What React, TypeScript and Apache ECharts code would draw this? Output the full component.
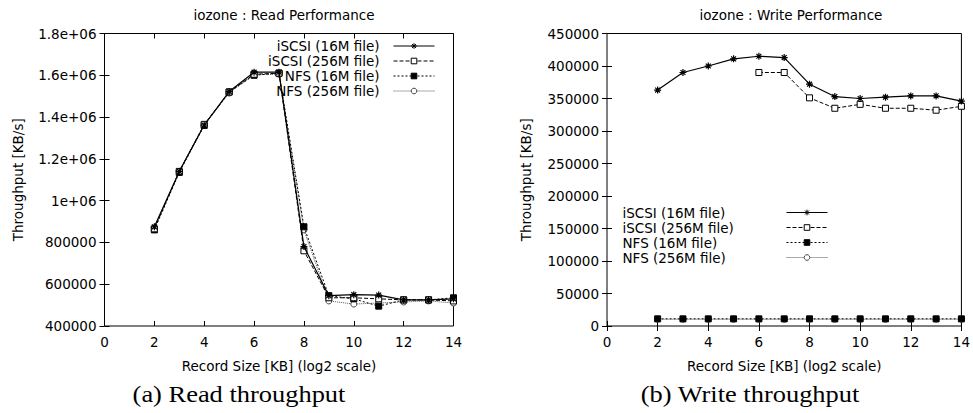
import React, { useEffect, useRef } from 'react';
import * as echarts from 'echarts';

const recordSizes = [2, 3, 4, 5, 6, 7, 8, 9, 10, 11, 12, 13, 14];
const seriesNames = ['iSCSI (16M file)', 'iSCSI (256M file)', 'NFS (16M file)', 'NFS (256M file)'];

const readIscsi16 = [875000, 1140000, 1362000, 1522000, 1615000, 1615000, 780000, 545000, 550000, 548000, 525000, 525000, 530000];
const readIscsi256 = [865000, 1140000, 1365000, 1520000, 1605000, 1610000, 760000, 535000, 535000, 530000, 525000, 525000, 520000];
const readNfs16 = [860000, 1135000, 1360000, 1520000, 1600000, 1610000, 875000, 545000, 530000, 495000, 525000, 525000, 535000];
const readNfs256 = [870000, 1140000, 1360000, 1515000, 1605000, 1605000, 860000, 520000, 505000, 510000, 515000, 520000, 510000];

const writeIscsi16 = [363000, 390000, 400000, 411000, 415000, 413000, 372000, 353000, 350000, 352000, 354000, 354000, 346000];
const writeIscsi256 = [null, null, null, null, 390000, 390000, 351000, 335000, 341000, 335000, 335000, 332000, 338000];
const writeNfs16 = [11000, 11000, 11000, 11000, 11000, 11000, 11000, 11000, 11000, 11000, 11000, 11000, 11000];
const writeNfs256 = [10500, 10500, 10500, 10500, 10500, 10500, 10500, 10500, 10500, 10500, 10500, 10500, 10500];

const titles = ['iozone : Read Performance', 'iozone : Write Performance'];
const captions = ['(a) Read throughput', '(b) Write throughput'];
const xName = 'Record Size [KB] (log2 scale)';
const yName = 'Throughput [KB/s]';

const FONT = 'DejaVu Sans';
const FS = 13.5;

const pairs = (vals: (number | null)[]) =>
  recordSizes.map((x, i) => [x, vals[i]]).filter((p) => p[1] !== null);

const asterisk = 'path://M5,0 L5,10 M0,5 L10,5 M1.5,1.5 L8.5,8.5 M1.5,8.5 L8.5,1.5';

const styles = [
  { symbol: asterisk, symbolSize: 7, itemStyle: { color: '#000', borderColor: '#000', borderWidth: 1.2 }, lineStyle: { color: '#000', width: 1.2, type: 'solid' } },
  { symbol: 'rect', symbolSize: 6, itemStyle: { color: '#fff', borderColor: '#000', borderWidth: 1 }, lineStyle: { color: '#000', width: 1, type: [4, 2] } },
  { symbol: 'rect', symbolSize: 6, itemStyle: { color: '#000', borderColor: '#000', borderWidth: 1 }, lineStyle: { color: '#000', width: 1, type: [2, 2] } },
  { symbol: 'circle', symbolSize: 6, itemStyle: { color: '#fff', borderColor: '#444', borderWidth: 1 }, lineStyle: { color: '#555', width: 1, type: [1, 1] } },
];

function App() {
  const ref = useRef<HTMLDivElement>(null);
  useEffect(() => {
    const chart = echarts.init(ref.current!, null, { renderer: 'svg' });
    const grids = [
      { left: 104.5, top: 33.5, width: 349, height: 292.5 },
      { left: 607, top: 33.5, width: 358.7, height: 292.5 },
    ].map((g) => ({ ...g, show: true, borderColor: '#000', borderWidth: 1, backgroundColor: 'transparent' }));

    const xBase = (gridIndex: number, position: string, mirror: boolean) => ({
      type: 'value',
      gridIndex,
      position,
      min: 0,
      max: 14,
      interval: 2,
      name: mirror ? '' : xName,
      nameLocation: 'middle',
      nameGap: 33,
      nameTextStyle: { fontFamily: FONT, fontSize: FS, color: '#000' },
      axisLine: { show: false },
      axisTick: { show: true, inside: true, length: 5, lineStyle: { color: '#000' } },
      axisLabel: { show: !mirror, margin: 9, fontFamily: FONT, fontSize: FS, color: '#000' },
      splitLine: { show: false },
    });

    const yFmtRead = (v: number) => (v >= 1000000 ? `${+(v / 1000000).toFixed(1)}e+06` : String(v));
    const yFmtWrite = (v: number) => String(v);

    const yBase = (gridIndex: number, position: string, mirror: boolean, min: number, max: number, interval: number, gap: number, fmt?: (v: number) => string) => ({
      type: 'value',
      gridIndex,
      position,
      min,
      max,
      interval,
      name: mirror ? '' : yName,
      nameLocation: 'middle',
      nameGap: gap,
      nameTextStyle: { fontFamily: FONT, fontSize: FS, color: '#000' },
      axisLine: { show: false },
      axisTick: { show: true, inside: true, length: 5, lineStyle: { color: '#000' } },
      axisLabel: { show: !mirror, margin: 8, fontFamily: FONT, fontSize: FS, color: '#000', formatter: fmt },
      splitLine: { show: false },
    });

    const readData = [readIscsi16, readIscsi256, readNfs16, readNfs256];
    const writeData = [writeIscsi16, writeIscsi256, writeNfs16, writeNfs256];

    const series: any[] = [];
    readData.forEach((d, i) => {
      series.push({ type: 'line', name: seriesNames[i], xAxisIndex: 0, yAxisIndex: 0, data: pairs(d), ...styles[i], z: 10 - i });
    });
    writeData.forEach((d, i) => {
      series.push({ type: 'line', name: seriesNames[i], xAxisIndex: 2, yAxisIndex: 2, data: pairs(d), ...styles[i], z: 10 - i });
    });

    const legendCommon = {
      orient: 'vertical',
      align: 'right',
      padding: 0,
      itemWidth: 41,
      itemHeight: 7,
      itemGap: 0,
      data: seriesNames,
      selectedMode: false,
      inactiveColor: '#000',
      lineStyle: { width: 1 },
      itemStyle: { borderWidth: 1 },
    };

    chart.setOption({
      animation: false,
      backgroundColor: '#fff',
      title: [
        { text: titles[0], left: 279, top: 3, textAlign: 'center', textStyle: { fontFamily: FONT, fontSize: FS, fontWeight: 'normal', color: '#000' } },
        { text: titles[1], left: 786, top: 3, textAlign: 'center', textStyle: { fontFamily: FONT, fontSize: FS, fontWeight: 'normal', color: '#000' } },
      ],
      legend: [
        {
          ...legendCommon,
          right: 538,
          top: 38.5,
          formatter: (n: string) => `{a|${n}}`,
          textStyle: { fontFamily: FONT, fontSize: FS, color: '#000', lineHeight: 15, rich: { a: { padding: [0, 9, 0, 0], fontFamily: FONT, fontSize: FS, color: '#000', lineHeight: 15 } } },
        },
        {
          ...legendCommon,
          right: 145,
          top: 205,
          formatter: (n: string) => `{a|${n}}`,
          textStyle: { fontFamily: FONT, fontSize: FS, color: '#000', lineHeight: 15, rich: { a: { width: 159, align: 'left', fontFamily: FONT, fontSize: FS, color: '#000', lineHeight: 15 } } },
        },
      ],
      grid: grids,
      xAxis: [xBase(0, 'bottom', false), xBase(0, 'top', true), xBase(1, 'bottom', false), xBase(1, 'top', true)],
      yAxis: [
        yBase(0, 'left', false, 400000, 1800000, 200000, 80, yFmtRead),
        yBase(0, 'right', true, 400000, 1800000, 200000, 80),
        yBase(1, 'left', false, 0, 450000, 50000, 74, yFmtWrite),
        yBase(1, 'right', true, 0, 450000, 50000, 74),
      ],
      series,
      graphic: [
        { type: 'text', x: 239, y: 394, scaleX: 1.15, style: { text: captions[0], fontFamily: 'Liberation Serif', fontSize: 23, fill: '#000', align: 'center', verticalAlign: 'middle' } },
        { type: 'text', x: 750, y: 394, scaleX: 1.15, style: { text: captions[1], fontFamily: 'Liberation Serif', fontSize: 23, fill: '#000', align: 'center', verticalAlign: 'middle' } },
      ],
    });
    return () => chart.dispose();
  }, []);
  return <div ref={ref} style={{ position: 'fixed', left: 0, top: 0, width: 973, height: 413 }} />;
}

export default App;
